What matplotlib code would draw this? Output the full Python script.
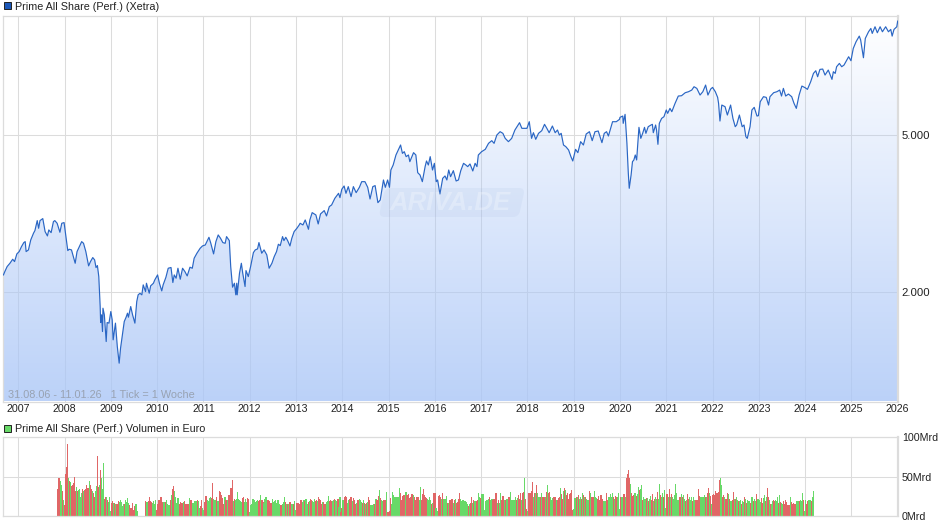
import numpy as np
import matplotlib
matplotlib.use("Agg")
import matplotlib.pyplot as plt
from matplotlib.patches import FancyBboxPatch, PathPatch, Rectangle
from matplotlib.transforms import Affine2D

plt.rcParams["font.family"] = ["Liberation Sans", "DejaVu Sans"]

W, H = 940, 526

price_years = [
    2006.68, 2006.71, 2006.76, 2006.82, 2006.88, 2006.92, 2006.97, 2007.02, 2007.07, 2007.12, 2007.15, 2007.17, 2007.22, 2007.27, 2007.33,
    2007.36, 2007.41, 2007.44, 2007.47, 2007.53, 2007.58, 2007.63, 2007.66, 2007.71, 2007.76, 2007.79, 2007.84, 2007.90, 2007.94, 2007.99,
    2008.02, 2008.07, 2008.10, 2008.15, 2008.19, 2008.23, 2008.27, 2008.32, 2008.37, 2008.41, 2008.46, 2008.52, 2008.56, 2008.61, 2008.65,
    2008.68, 2008.71, 2008.74, 2008.77, 2008.78, 2008.80, 2008.82, 2008.83, 2008.86, 2008.90, 2008.92, 2008.96, 2009.00, 2009.03, 2009.05,
    2009.10, 2009.14, 2009.18, 2009.21, 2009.26, 2009.29, 2009.33, 2009.36, 2009.38, 2009.43, 2009.47, 2009.52, 2009.56, 2009.59, 2009.63,
    2009.67, 2009.70, 2009.75, 2009.77, 2009.83, 2009.86, 2009.92, 2009.95, 2010.01, 2010.05, 2010.10, 2010.13, 2010.19, 2010.24, 2010.30,
    2010.34, 2010.37, 2010.41, 2010.45, 2010.50, 2010.55, 2010.60, 2010.65, 2010.71, 2010.76, 2010.80, 2010.86, 2010.93, 2010.98, 2011.04,
    2011.12, 2011.16, 2011.22, 2011.27, 2011.32, 2011.37, 2011.42, 2011.47, 2011.50, 2011.56, 2011.59, 2011.63, 2011.67, 2011.70, 2011.72,
    2011.73, 2011.78, 2011.82, 2011.85, 2011.90, 2011.92, 2011.97, 2012.02, 2012.08, 2012.12, 2012.17, 2012.20, 2012.26, 2012.31, 2012.37,
    2012.42, 2012.48, 2012.53, 2012.58, 2012.62, 2012.66, 2012.71, 2012.74, 2012.78, 2012.82, 2012.87, 2012.91, 2012.96, 2013.02, 2013.07,
    2013.09, 2013.15, 2013.20, 2013.27, 2013.30, 2013.35, 2013.43, 2013.48, 2013.53, 2013.61, 2013.66, 2013.72, 2013.77, 2013.84, 2013.92,
    2013.95, 2013.99, 2014.04, 2014.08, 2014.13, 2014.19, 2014.24, 2014.30, 2014.37, 2014.42, 2014.49, 2014.55, 2014.60, 2014.66, 2014.71,
    2014.77, 2014.82, 2014.89, 2014.93, 2014.98, 2015.02, 2015.05, 2015.10, 2015.16, 2015.21, 2015.26, 2015.30, 2015.34, 2015.38, 2015.43,
    2015.46, 2015.54, 2015.59, 2015.63, 2015.68, 2015.73, 2015.79, 2015.82, 2015.86, 2015.90, 2015.95, 2015.99, 2016.03, 2016.06, 2016.11,
    2016.17, 2016.22, 2016.26, 2016.30, 2016.34, 2016.40, 2016.46, 2016.51, 2016.56, 2016.62, 2016.67, 2016.71, 2016.76, 2016.82, 2016.87,
    2016.91, 2016.94, 2017.01, 2017.09, 2017.16, 2017.23, 2017.28, 2017.34, 2017.41, 2017.47, 2017.52, 2017.59, 2017.66, 2017.73, 2017.83,
    2017.88, 2017.95, 2017.99, 2018.04, 2018.09, 2018.13, 2018.18, 2018.24, 2018.31, 2018.37, 2018.42, 2018.47, 2018.54, 2018.60, 2018.65,
    2018.69, 2018.73, 2018.78, 2018.83, 2018.89, 2018.94, 2018.98, 2019.04, 2019.09, 2019.15, 2019.21, 2019.27, 2019.34, 2019.40, 2019.46,
    2019.53, 2019.61, 2019.66, 2019.71, 2019.75, 2019.84, 2019.92, 2019.99, 2020.00, 2020.06, 2020.07, 2020.11, 2020.15, 2020.18, 2020.20,
    2020.24, 2020.27, 2020.30, 2020.33, 2020.36, 2020.41, 2020.45, 2020.49, 2020.53, 2020.56, 2020.61, 2020.67, 2020.70, 2020.72, 2020.77,
    2020.79, 2020.82, 2020.85, 2020.90, 2020.95, 2021.00, 2021.03, 2021.08, 2021.12, 2021.19, 2021.26, 2021.33, 2021.41, 2021.48, 2021.55,
    2021.60, 2021.66, 2021.73, 2021.79, 2021.85, 2021.90, 2021.96, 2022.00, 2022.06, 2022.11, 2022.13, 2022.16, 2022.20, 2022.27, 2022.32,
    2022.39, 2022.44, 2022.49, 2022.52, 2022.58, 2022.64, 2022.68, 2022.72, 2022.75, 2022.81, 2022.85, 2022.90, 2022.96, 2022.99, 2023.03,
    2023.10, 2023.16, 2023.21, 2023.24, 2023.32, 2023.39, 2023.45, 2023.49, 2023.53, 2023.58, 2023.64, 2023.71, 2023.76, 2023.81, 2023.87,
    2023.93, 2024.00, 2024.05, 2024.12, 2024.18, 2024.23, 2024.27, 2024.32, 2024.38, 2024.43, 2024.50, 2024.58, 2024.61, 2024.65, 2024.68,
    2024.74, 2024.79, 2024.84, 2024.94, 2024.99, 2025.04, 2025.10, 2025.17, 2025.20, 2025.26, 2025.30, 2025.37, 2025.42, 2025.45, 2025.51,
    2025.56, 2025.62, 2025.67, 2025.74, 2025.80, 2025.85, 2025.88, 2025.92, 2025.98, 2026.00,
]

price_values = [
    2212, 2256, 2323, 2368, 2424, 2391, 2501, 2535, 2610, 2672, 2687, 2535, 2560, 2714, 2823,
    2866, 3038, 2905, 3038, 3074, 2849, 2778, 2877, 2832, 3020, 3038, 2991, 2838, 2991, 3003,
    2821, 2550, 2570, 2560, 2462, 2368, 2535, 2610, 2687, 2661, 2535, 2332, 2391, 2448, 2415,
    2309, 2336, 2191, 1839, 1675, 1752, 1589, 1821, 1752, 1499, 1675, 1669, 1786, 1701, 1514,
    1669, 1456, 1321, 1442, 1589, 1685, 1728, 1769, 1728, 1839, 1752, 1669, 1893, 1969, 1987,
    1969, 2087, 2007, 2107, 1988, 2075, 2107, 2149, 2212, 2107, 2015, 2087, 2182, 2300, 2310,
    2116, 2212, 2170, 2300, 2157, 2300, 2256, 2199, 2314, 2300, 2438, 2511, 2585, 2620, 2635,
    2756, 2661, 2501, 2687, 2794, 2740, 2672, 2661, 2767, 2703, 2323, 2059, 2107, 1969, 2107,
    1969, 2234, 2368, 2234, 2067, 2269, 2191, 2323, 2520, 2560, 2575, 2672, 2511, 2560, 2486,
    2300, 2368, 2462, 2535, 2646, 2625, 2767, 2703, 2756, 2703, 2620, 2740, 2849, 2905, 2962,
    2991, 2962, 3050, 2888, 3050, 3183, 3140, 2979, 3158, 3221, 3122, 3297, 3329, 3461, 3563,
    3474, 3648, 3719, 3563, 3705, 3495, 3705, 3577, 3690, 3814, 3814, 3690, 3447, 3705, 3727,
    3374, 3427, 3852, 3690, 3852, 3690, 4083, 4204, 4457, 4589, 4725, 4500, 4544, 4414, 4457,
    4287, 4518, 4457, 4020, 3966, 3814, 4164, 4304, 4204, 4414, 4083, 4245, 3814, 3852, 3549,
    3889, 3943, 3852, 4083, 3927, 4067, 3829, 3852, 4067, 4245, 4204, 4164, 4229, 4060, 4246,
    4164, 4457, 4544, 4607, 4771, 4846, 4771, 5009, 5107, 5058, 4912, 4818, 4912, 5157, 5383,
    5208, 5208, 5208, 5414, 4912, 5077, 4884, 5058, 5137, 5331, 5208, 5077, 5279, 5077, 5157,
    5009, 5058, 4725, 4679, 4589, 4414, 4304, 4607, 4518, 4818, 4725, 5038, 5107, 4846, 5107,
    5127, 4790, 5058, 5107, 4980, 5414, 5414, 5488, 5553, 5596, 5362, 5651, 4771, 4005, 3669,
    3966, 4287, 4329, 4457, 4329, 5238, 4912, 5058, 5238, 5058, 5258, 5310, 5331, 5077, 5310,
    5157, 4743, 5362, 5520, 5574, 5796, 5684, 5852, 5740, 6026, 6289, 6301, 6413, 6450, 6512,
    6641, 6577, 6326, 6450, 6706, 6326, 6551, 6615, 6450, 6240, 6026, 5435, 5967, 5910, 5629,
    5967, 5520, 5258, 5310, 5629, 5258, 5310, 4960, 4912, 5258, 5796, 5887, 5596, 5607, 6084,
    6265, 6240, 5967, 6265, 6413, 6450, 6513, 6289, 6577, 6289, 6363, 6265, 6026, 5852, 6327,
    6667, 6603, 6539, 6838, 7179, 7291, 7040, 7348, 7363, 7109, 7320, 6932, 7249, 7179, 7464,
    7610, 7464, 7537, 7912, 7730, 8306, 8636, 8926, 8721, 7866, 8806, 9155, 9335, 9067, 9427,
    9102, 9426, 9155, 9426, 9155, 9281, 8926, 9281, 9426, 9743,
]

# volume in Mrd, negative = red week, 0 = no data
vol_a = [
    -35, -49, -48, 45, 39, -32, 20, -14, -54, -62, -92, 49, -45, 43, -38, -40, -42, -50, -32, 37, -32, 33, 35, 25, 29, -34, 32, -33, -35, -39,
    -36, -36, 45, -39, -34, 32, -30, -25, 32, 38, -76, -37, 40, -58, 49, 34, 68, -22, -24, 24, -21, 18, 24, 7, -17, -19, 17, -17, 16, -15,
    -15, -19, 18, 20, 18, 13, 15, -16, 21, 18, 23, 17, -14, -11, -10, -17, -8, -13, 15, 15, 7, 0, 0, 0, 0, 0, 0, 0,
    -19, 18, 18, -19, -24, -19, -18, 17, 19, 15, 20, -8, -15, -20, -21, -24, -24, -18, 18, 18, -18, 20, 16, 14, 14, -21, 27, -34, -38, 32,
    24, 17, 23, 23, -16, -18, -17, -17, 18, -19, -16, -15, -15, -15, 23, -20, -20, 17, 17, 19, 19, 19, -21, 19, 10, -13, -21, 10, 8, -18,
    -26, -26, 21, 19, 23,
]
vol_b = [
    24, -23, -42, 22, 20, 20, -25, 19, 19, -32, -31, -27, -23, -16, 24, -21, -21, 20, -27, -22, -36, -46, 19, -22, 21, 22, 31, 22, 21, 19,
    18, -23, -25, 18, 22, 18, -23, -22, 6, 14, 15, 22, 22, 21, 18, 19, 20, -19, -20, 27, -20, -18, 17, 22, 24, 16, -20, -19, -17, -17,
    22, 18, 19, 20, 17, 20, 20, 16, -14, -14, 15, 18, 24, -18, 15, -15, 16, -18, -18, 15, 15, -16, 19, 8, -17, -17, -17, -16, -20, -16,
    18, 21, -19, 22, 16, -18, 19, -22, -21, 19, 18, 22, -19, -20, 19, -24, -22, -20, -16, 18, -18, -16, -16, 18, 19, 26, -19, -20, -19, 19,
    20, -22, 20, 19, -22, 12, 24, -6, -11, 20, -24, -26, -25, 17, 20, -22, -24, -24, 19, -23, -21, -15, 17, -20, -21, 22,
]
vol_c = [
    21, 18, -17, 21, -17, 16, -17, 18, -24, -21, 14, 14, 14, 15, -15, 22, -20, -26, 33, -23, 20, 19, -20, -21, -21, 31, -6, -6, -7, -23,
    15, 31, 27, 25, 24, 24, 24, 24, 36, -29, -20, -26, -27, -25, 31, -27, -28, -23, -25, -28, -28, 27, -25, -20, -25, -25, -25, 20, 37, -20,
    -28, -35, -27, -25, -23, 22, 21, 25, 21, -16, 17, -30, -29, 11, 7, -26, -27, -25, 22, -29, 22, 22, 22, 26, -17, 17, -20, -20, -22, -22,
    17, -20, 22, -17, -18, -22, -29, 22, 19, 20, 18, 19, 18, 16, -13, 16, -17, -24, 17, -21, 19, 19, -19, -20, 29, 25, -23, 28, 28, 28,
    8, 19, 21, 20, 22, -24, 20, 22, -21, -22, -21, -29, 17, -20, 17, 29, -20, -26, -26, 20, -21, 22, 22, -24, -25,
]
vol_d = [
    31, 20, 20, 20, 20, 24, -20, 23, -27, -22, -29, 21, -30, -31, 48, -22, -9, 7, -29, -29, -30, -32, -43, 24, -30, 30, -39, 30, 24, 25,
    -24, 29, -24, -24, -24, 24, -31, 39, -29, -31, 24, 20, 23, -25, -25, -25, 21, -21, -23, -24, 36, -28, -22, 32, -36, 33, -27, -29, -22, -28,
    -30, -33, -8, 9, 23, 23, -24, 25, -27, 22, 24, -22, 30, -27, 24, -24, 22, 21, 21, -32, 30, -25, -24, -24, 32, 24, 23, -22, -26, -21,
    -27, -27, -22, 19, 19, 19, -29, -21, 24, 24, 28, 24, 29, -24, 22, -26, -25, 24, 30, 9, -25, 24, 25, -28, -28, 24, -48, -53, -59, -48,
    41, -30, -26, -27, 29, 29, -26, 28, 37, -33, 35, 39, -21, 24, 22, 22, -23, 23, -19, 22, 26, -21, -28, 19, -22, 24, 22, -31, 22, 41,
]
vol_e = [
    -27, 24, 29, -24, 33, 10, -28, -28, 24, -34, 24, -28, 24, 22, 27, 41, 29, 20, 20, -25, -25, 28, -25, 27, 22, -19, 20, -28, -22, 24,
    21, 24, -19, 24, 20, -20, -20, -20, -34, -26, 24, 24, 24, 25, 27, -25, 25, -30, -36, 30, -26, 15, -27, -28, -27, -32, -29, -30, -31, -46,
    48, 39, -25, -27, 24, -22, -22, -30, 28, -22, 19, 19, -21, -31, 22, -22, 24, 20, -19, 19, 20, -16, 19, 18, -24, 22, -17, 20, 19, 19,
    -17, 25, 24, -19, 22, 19, -28, 22, 22, 20, 18, -23, -17, 23, 27, -19, 24, -36, -24, 20, -15, 15, 19, -21, -19, 20, 19, 24, -17, 27,
    -18, 17, 16, -19, -16, -20, -18, -14, -14, -14, 25, -18, -16, -17, -16, -16, 19, 19, 19, -19, 21, 19, 29, -21, 7, 21, -15, -19, 20, 20,
    20, -19, 24, 32,
]
vol_blocks = [vol_a, vol_b, vol_c, vol_d, vol_e]
vol_block_years = [2007.848, 2011.154, 2014.395, 2017.636, 2020.877, 2024.194]

year_ticks = list(range(2007, 2027))
price_ticks = [2000, 5000]
price_tick_labels = ["2.000", "5.000"]
vol_ticks = [0, 50, 100]
vol_tick_labels = ["0Mrd", "50Mrd", "100Mrd"]

GRID = "#dcdcdc"
TXT = "#222222"
LEFT, RIGHT = 2.7, 897.7


def px_axes(fig, top, bottom):
    return fig.add_axes([LEFT / W, 1 - bottom / H, (RIGHT - LEFT) / W, (bottom - top) / H])


fig = plt.figure(figsize=(W / 100, H / 100), dpi=100)
ax = px_axes(fig, 16, 401.5)
axv = px_axes(fig, 437.3, 516.3)

for a in (ax, axv):
    a.set_xlim(2006.664, 2026.0)
    a.set_xticks(year_ticks)
    a.grid(True, color=GRID, lw=0.75, zorder=0)
    a.set_axisbelow(True)
    a.yaxis.tick_right()
    a.tick_params(length=0, labelsize=7.7, labelcolor=TXT)
    a.tick_params(axis="y", pad=3)
    for s in a.spines.values():
        s.set_color(GRID)
        s.set_linewidth(0.9)
    a.spines["right"].set_linewidth(1.6)
ax.tick_params(axis="y", labelsize=8.2)

# price panel
ymin, ymax = 1056, 10038
ax.set_yscale("log")
poly = ax.fill_between(price_years, price_values, ymin, facecolor="none", edgecolor="none")
clip = PathPatch(poly.get_paths()[0], transform=ax.transData, fc="none", ec="none")
ax.add_patch(clip)
grad = np.zeros((256, 2, 4))
grad[:, :, 0] = 0.67
grad[:, :, 1] = 0.78
grad[:, :, 2] = 0.97
grad[:, :, 3] = np.linspace(0.8, 0, 256)[:, None]
im = ax.imshow(grad, extent=(0, 1, 0, 1), transform=ax.transAxes, aspect="auto", origin="lower", zorder=1)
im.set_clip_path(clip)
ax.plot(price_years, price_values, color="#2a66c4", lw=0.85, zorder=3)
ax.set_xlim(2006.664, 2026.0)
ax.set_ylim(ymin, ymax)
ax.set_yticks(price_ticks)
ax.set_yticklabels(price_tick_labels)
ax.yaxis.set_minor_locator(matplotlib.ticker.NullLocator())
ax.yaxis.set_minor_formatter(matplotlib.ticker.NullFormatter())
ax.tick_params(axis="x", pad=2)
ax.set_xticklabels([str(y) for y in year_ticks])

# volume panel, one block per stretch of the axis
step = 1 / 46.28
for block, y0, y1 in zip(vol_blocks, vol_block_years[:-1], vol_block_years[1:]):
    years = np.linspace(y0, y1, len(block), endpoint=False)
    colors = ["#e06666" if v < 0 else "#68d968" for v in block]
    axv.bar(years, np.abs(block), width=step * 1.2, color=colors, linewidth=0, antialiased=False, zorder=2)
axv.set_ylim(0, 100)
axv.set_yticks(vol_ticks)
axv.set_yticklabels(vol_tick_labels)
axv.tick_params(axis="x", labelbottom=False)

# legends, caption, watermark in pixel coordinates
ov = fig.add_axes([0, 0, 1, 1], zorder=5)
ov.set_xlim(0, W)
ov.set_ylim(H, 0)
ov.axis("off")
ov.add_patch(Rectangle((3.5, 2), 7, 7, fc="#1c58b8", ec="#222222", lw=0.7))
ov.text(15, 6.8, "Prime All Share (Perf.) (Xetra)", fontsize=7.75, color=TXT, va="center")
ov.add_patch(Rectangle((3.5, 424.5), 7, 7, fc="#68d968", ec="#222222", lw=0.7))
ov.text(15, 428.5, "Prime All Share (Perf.) Volumen in Euro", fontsize=7.75, color=TXT, va="center")
ov.text(7.5, 395, "31.08.06 - 11.01.26   1 Tick = 1 Woche", fontsize=7.85, color="#98a2b2", va="center")

shear = Affine2D.from_values(1, 0, -0.22, 1, 0.22 * 202, 0) + ov.transData
ov.add_patch(FancyBboxPatch((384, 190), 136, 25, boxstyle="round,pad=2,rounding_size=6",
                            fc="#8eaad4", ec="none", alpha=0.1, transform=shear))
ov.text(450, 202.5, "ARIVA.DE", fontsize=18.5, style="italic", weight="bold", color="white",
        alpha=0.28, ha="center", va="center")

fig.savefig("out.png", dpi=100)
